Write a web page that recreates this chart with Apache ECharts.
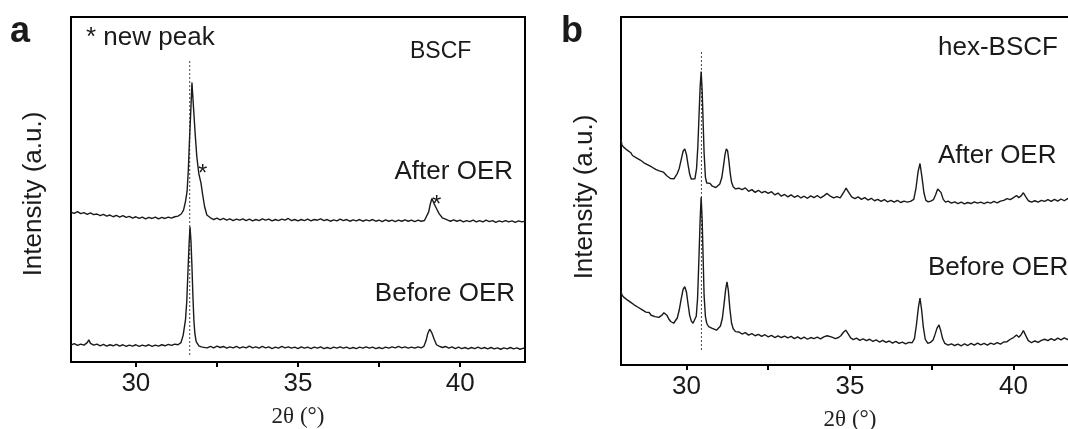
<!DOCTYPE html>
<html><head><meta charset="utf-8">
<script src="https://cdn.jsdelivr.net/npm/echarts@6/dist/echarts.min.js"></script>
<style>html,body{margin:0;padding:0;background:#fff}#c{width:1068px;height:429px}</style>
</head><body><div id="c"></div>
<script>
// x axis ticks / labels (2θ, degrees)
const xTicks = [30, 32.5, 35, 37.5, 40];
const xLabels = [30, 35, 40];

// Panel a: BSCF (intensity in arbitrary units)
const aAfter = [[28.0,43.4],[28.1,43.1],[28.2,43.6],[28.3,43.0],[28.4,43.3],[28.5,42.8],[28.6,43.2],[28.7,42.7],[28.8,42.9],[28.9,42.4],[29.0,42.8],[29.1,42.3],[29.2,42.6],[29.3,42.1],[29.4,42.5],[29.5,42.0],[29.6,42.4],[29.7,41.9],[29.8,42.2],[29.9,41.7],[30.0,42.1],[30.1,41.6],[30.2,42.0],[30.3,41.5],[30.4,41.9],[30.5,41.6],[30.6,42.0],[30.7,41.5],[30.8,41.9],[30.9,41.6],[31.0,42.0],[31.1,41.7],[31.2,42.1],[31.3,42.3],[31.4,42.9],[31.47,44.0],[31.53,46.5],[31.58,49.5],[31.62,56.0],[31.65,63.5],[31.69,72.0],[31.73,81.0],[31.78,73.5],[31.83,66.0],[31.88,59.5],[31.94,54.7],[32.01,51.8],[32.06,48.5],[32.12,45.0],[32.19,42.6],[32.3,41.8],[32.4,41.3],[32.5,41.7],[32.6,41.2],[32.7,41.6],[32.8,41.1],[32.9,41.5],[33.0,41.0],[33.1,41.4],[33.2,41.1],[33.3,41.5],[33.4,41.0],[33.5,41.4],[33.6,40.9],[33.7,41.3],[33.8,41.0],[33.9,41.5],[34.0,41.1],[34.1,41.4],[34.2,40.9],[34.3,41.3],[34.4,41.0],[34.5,41.4],[34.6,41.1],[34.7,41.6],[34.8,41.0],[34.9,41.3],[35.0,40.9],[35.1,41.3],[35.2,41.0],[35.3,41.4],[35.4,40.9],[35.5,41.3],[35.6,41.1],[35.7,41.5],[35.8,41.0],[35.9,41.3],[36.0,40.8],[36.1,41.2],[36.2,40.9],[36.3,41.4],[36.4,41.0],[36.5,41.3],[36.6,40.8],[36.7,41.2],[36.8,40.9],[36.9,41.3],[37.0,40.8],[37.1,41.2],[37.2,40.9],[37.3,41.3],[37.4,40.8],[37.5,41.1],[37.6,40.7],[37.7,41.2],[37.8,40.8],[37.9,41.1],[38.0,40.7],[38.1,41.1],[38.2,40.8],[38.3,41.2],[38.4,40.8],[38.5,41.1],[38.6,40.7],[38.7,41.1],[38.8,40.8],[38.9,41.0],[38.96,41.3],[39.03,43.5],[39.08,45.8],[39.13,47.4],[39.2,45.8],[39.27,44.5],[39.35,43.0],[39.45,41.8],[39.55,41.4],[39.62,41.1],[39.7,40.8],[39.8,41.2],[39.9,40.8],[40.0,41.1],[40.1,40.6],[40.2,41.0],[40.3,40.7],[40.4,41.1],[40.5,40.6],[40.6,41.0],[40.7,40.6],[40.8,41.1],[40.9,40.7],[41.0,41.0],[41.1,40.5],[41.2,40.9],[41.3,40.6],[41.4,41.0],[41.5,40.6],[41.6,40.9],[41.7,40.5],[41.8,40.9],[41.9,40.6],[42.0,40.8]];
const aBefore = [[28.0,4.9],[28.1,5.3],[28.2,4.8],[28.3,5.2],[28.4,4.9],[28.5,5.6],[28.55,6.4],[28.6,5.4],[28.7,4.9],[28.8,5.2],[28.9,4.7],[29.0,5.1],[29.1,4.6],[29.2,5.0],[29.3,4.7],[29.4,5.1],[29.5,4.6],[29.6,5.0],[29.7,4.5],[29.8,4.9],[29.9,4.6],[30.0,5.0],[30.1,4.5],[30.2,4.9],[30.3,4.6],[30.4,5.0],[30.5,4.5],[30.6,4.9],[30.7,4.6],[30.8,5.0],[30.9,4.7],[31.0,5.1],[31.1,4.8],[31.2,5.2],[31.3,5.0],[31.39,5.6],[31.46,7.8],[31.53,12.2],[31.57,17.5],[31.6,24.7],[31.64,34.0],[31.67,39.2],[31.7,35.0],[31.73,27.6],[31.76,19.0],[31.79,12.0],[31.82,8.2],[31.86,5.9],[31.95,4.6],[32.05,4.3],[32.1,4.6],[32.2,4.1],[32.3,4.5],[32.4,4.1],[32.5,4.6],[32.6,4.2],[32.7,4.5],[32.8,4.0],[32.9,4.4],[33.0,4.1],[33.1,4.5],[33.2,4.0],[33.3,4.4],[33.4,4.1],[33.5,4.6],[33.6,4.1],[33.7,4.4],[33.8,4.0],[33.9,4.5],[34.0,4.1],[34.1,4.4],[34.2,3.9],[34.3,4.3],[34.4,4.0],[34.5,4.5],[34.6,4.1],[34.7,4.4],[34.8,4.0],[34.9,4.3],[35.0,3.9],[35.1,4.4],[35.2,4.0],[35.3,4.3],[35.4,3.9],[35.5,4.3],[35.6,4.0],[35.7,4.4],[35.8,3.9],[35.9,4.2],[36.0,3.9],[36.1,4.3],[36.2,4.0],[36.3,4.4],[36.4,4.0],[36.5,4.3],[36.6,3.9],[36.7,4.2],[36.8,3.9],[36.9,4.3],[37.0,4.0],[37.1,4.4],[37.2,4.0],[37.3,4.3],[37.4,3.9],[37.5,4.2],[37.6,3.9],[37.7,4.3],[37.8,4.0],[37.9,4.4],[38.0,4.1],[38.1,4.5],[38.2,4.1],[38.3,4.4],[38.4,4.0],[38.5,4.3],[38.6,4.0],[38.7,4.4],[38.8,4.1],[38.88,4.5],[38.95,6.2],[39.0,8.2],[39.06,9.5],[39.12,8.6],[39.2,6.6],[39.27,5.0],[39.35,4.6],[39.45,4.2],[39.55,4.5],[39.65,4.0],[39.75,4.4],[39.85,3.9],[39.95,4.3],[40.05,3.9],[40.15,4.2],[40.25,3.8],[40.35,4.2],[40.45,3.9],[40.55,4.3],[40.65,3.9],[40.75,4.2],[40.85,3.8],[40.95,4.2],[41.05,3.8],[41.15,4.1],[41.25,3.7],[41.35,4.1],[41.45,3.8],[41.55,4.2],[41.65,3.8],[41.75,4.1],[41.85,3.7],[41.95,4.0],[42.0,3.8]];
const aRefLine = [[31.66,2.0],[31.66,87.5]];

// Panel b: hex-BSCF
const bAfter = [[28.0,64.8],[28.03,63.2],[28.08,62.6],[28.13,63.0],[28.18,61.8],[28.22,61.3],[28.3,61.0],[28.35,60.2],[28.4,60.6],[28.47,59.5],[28.53,59.9],[28.59,58.9],[28.65,59.2],[28.7,58.1],[28.76,58.4],[28.82,57.5],[28.88,57.8],[28.94,56.9],[29.0,57.2],[29.06,56.2],[29.12,56.6],[29.17,55.8],[29.23,56.1],[29.3,55.4],[29.35,55.0],[29.4,54.4],[29.45,54.8],[29.51,53.6],[29.56,53.9],[29.62,53.5],[29.67,54.3],[29.72,55.0],[29.78,56.5],[29.84,59.0],[29.9,61.5],[29.95,62.1],[30.0,60.5],[30.05,57.5],[30.1,54.8],[30.15,53.4],[30.2,52.9],[30.26,53.5],[30.31,56.5],[30.35,63.0],[30.39,73.0],[30.42,80.0],[30.45,84.3],[30.48,79.0],[30.51,70.0],[30.54,61.0],[30.58,54.0],[30.62,52.3],[30.67,51.8],[30.72,52.2],[30.78,51.5],[30.84,51.2],[30.9,51.0],[30.96,51.5],[31.02,52.0],[31.08,53.8],[31.13,57.0],[31.18,60.5],[31.22,62.1],[31.26,61.5],[31.3,58.5],[31.34,55.0],[31.38,52.5],[31.43,51.2],[31.5,50.6],[31.55,50.2],[31.6,50.8],[31.7,50.4],[31.8,50.9],[31.9,49.9],[32.0,50.4],[32.1,49.6],[32.2,50.2],[32.3,49.5],[32.4,49.9],[32.5,49.3],[32.6,49.8],[32.7,48.9],[32.8,49.4],[32.9,48.5],[33.0,49.0],[33.1,48.3],[33.2,48.9],[33.3,48.2],[33.4,48.7],[33.5,48.0],[33.6,48.5],[33.7,47.9],[33.8,48.6],[33.9,48.1],[34.0,48.7],[34.1,48.0],[34.2,48.6],[34.3,49.3],[34.4,48.5],[34.5,48.0],[34.6,48.4],[34.7,48.0],[34.8,49.5],[34.88,50.8],[34.96,49.6],[35.05,48.3],[35.15,47.8],[35.25,48.3],[35.35,47.6],[35.45,48.1],[35.55,47.4],[35.65,47.9],[35.75,47.2],[35.85,47.6],[35.95,47.0],[36.05,47.5],[36.15,46.9],[36.25,47.3],[36.35,46.8],[36.45,47.3],[36.55,46.7],[36.65,47.1],[36.75,46.8],[36.85,47.0],[36.95,47.6],[37.02,51.0],[37.08,55.5],[37.14,57.9],[37.2,54.0],[37.26,49.5],[37.32,47.3],[37.39,46.9],[37.47,47.1],[37.55,47.5],[37.62,49.0],[37.68,50.6],[37.72,51.1],[37.78,49.6],[37.85,47.6],[37.92,46.8],[38.0,47.1],[38.1,46.5],[38.2,46.9],[38.3,46.4],[38.4,46.8],[38.5,46.3],[38.6,46.7],[38.7,46.4],[38.8,46.9],[38.9,46.5],[39.0,46.8],[39.1,46.4],[39.2,46.8],[39.3,46.5],[39.4,47.0],[39.5,46.6],[39.6,47.1],[39.7,47.3],[39.8,47.8],[39.9,47.5],[40.0,48.1],[40.09,48.7],[40.16,48.1],[40.23,48.6],[40.3,49.5],[40.37,48.4],[40.45,47.2],[40.55,46.8],[40.65,47.2],[40.75,46.8],[40.85,47.3],[40.95,47.0],[41.05,47.5],[41.15,47.0],[41.25,47.6],[41.35,47.1],[41.45,47.7],[41.55,47.2],[41.65,47.8],[41.75,47.3],[41.85,47.9],[41.95,47.4],[42.0,47.8]];
const bBefore = [[28.0,21.2],[28.03,20.1],[28.08,19.5],[28.13,19.9],[28.18,18.8],[28.23,19.1],[28.3,18.0],[28.35,18.3],[28.4,17.3],[28.46,17.6],[28.52,16.6],[28.58,16.9],[28.64,15.9],[28.7,16.2],[28.76,15.2],[28.8,14.8],[28.86,15.1],[28.92,14.3],[28.98,14.6],[29.04,13.9],[29.1,14.2],[29.16,13.7],[29.2,13.9],[29.26,14.4],[29.31,15.0],[29.36,15.3],[29.41,14.2],[29.46,13.2],[29.52,12.5],[29.57,12.1],[29.61,12.0],[29.66,12.4],[29.72,13.5],[29.78,15.8],[29.84,19.0],[29.9,21.8],[29.95,22.5],[30.0,21.0],[30.05,17.5],[30.1,14.2],[30.15,12.6],[30.2,12.0],[30.25,12.3],[30.3,14.0],[30.34,19.0],[30.38,30.0],[30.42,42.0],[30.45,48.2],[30.48,42.0],[30.51,31.0],[30.54,20.0],[30.58,14.0],[30.62,12.0],[30.68,11.0],[30.73,10.8],[30.79,10.5],[30.85,10.2],[30.92,10.0],[30.98,10.4],[31.04,11.2],[31.1,13.5],[31.15,17.5],[31.2,21.8],[31.24,23.9],[31.28,21.5],[31.33,16.0],[31.38,12.0],[31.43,10.4],[31.5,9.6],[31.55,9.1],[31.6,9.5],[31.7,8.9],[31.8,9.3],[31.9,8.6],[32.0,9.0],[32.1,8.4],[32.2,8.8],[32.3,8.2],[32.4,8.7],[32.5,8.1],[32.6,8.5],[32.7,7.9],[32.8,8.4],[32.9,7.9],[33.0,8.3],[33.1,7.8],[33.2,8.2],[33.3,7.6],[33.4,8.1],[33.5,7.5],[33.6,8.0],[33.7,7.4],[33.8,7.9],[33.9,7.6],[34.0,8.0],[34.1,7.5],[34.2,8.1],[34.3,8.4],[34.36,8.7],[34.45,8.0],[34.55,7.6],[34.65,7.9],[34.72,8.4],[34.8,9.4],[34.87,10.0],[34.94,9.0],[35.02,7.8],[35.1,7.3],[35.2,7.7],[35.3,7.1],[35.4,7.5],[35.5,7.0],[35.6,7.4],[35.7,6.8],[35.8,7.2],[35.9,6.6],[36.0,7.1],[36.1,6.5],[36.2,6.9],[36.3,6.3],[36.4,6.8],[36.5,6.2],[36.6,6.6],[36.7,6.1],[36.8,6.5],[36.9,6.4],[36.97,7.6],[37.03,11.5],[37.09,16.5],[37.14,19.2],[37.19,15.8],[37.24,11.0],[37.3,7.4],[37.38,6.2],[37.46,6.5],[37.54,7.2],[37.6,8.8],[37.66,10.6],[37.72,11.5],[37.77,10.0],[37.83,7.6],[37.9,6.2],[38.0,5.7],[38.1,6.1],[38.2,5.6],[38.3,6.0],[38.4,5.5],[38.5,6.1],[38.6,5.6],[38.7,6.2],[38.8,5.7],[38.9,6.3],[39.0,5.8],[39.1,6.2],[39.2,5.7],[39.3,6.3],[39.4,5.9],[39.5,6.4],[39.6,6.0],[39.7,6.6],[39.8,6.7],[39.9,7.4],[40.0,7.9],[40.09,8.6],[40.16,8.0],[40.23,8.7],[40.3,9.9],[40.37,8.5],[40.45,7.0],[40.55,6.4],[40.65,6.9],[40.75,6.5],[40.85,7.1],[40.95,7.4],[41.05,7.0],[41.15,7.6],[41.25,7.1],[41.35,7.7],[41.45,7.2],[41.55,7.8],[41.65,7.3],[41.75,7.8],[41.85,7.4],[41.95,7.9],[42.0,7.7]];
const bRefLine = [[30.46,4.3],[30.46,90.0]];

const SANS = '"Liberation Sans", Arial, sans-serif';
const SERIF = '"Liberation Serif", "Times New Roman", serif';
const INK = '#1a1a1a';

function xAxisFor(gi) {
  return {
    type: 'value', gridIndex: gi, min: 28, max: 42,
    axisLine: { show: true, lineStyle: { color: '#000', width: 2 } },
    axisTick: { show: true, length: 5, customValues: xTicks, lineStyle: { color: '#000', width: 2 } },
    axisLabel: { customValues: xLabels, fontSize: 26, color: INK, fontFamily: SANS, margin: 9 },
    splitLine: { show: false },
    name: '2θ (°)', nameLocation: 'middle', nameGap: 43,
    nameTextStyle: { fontFamily: SERIF, fontSize: 23, color: '#222' }
  };
}
function yAxisFor(gi) {
  return {
    type: 'value', gridIndex: gi, min: 0, max: 100,
    axisLine: { show: false }, axisTick: { show: false }, axisLabel: { show: false }, splitLine: { show: false }
  };
}
function trace(data, gi) {
  return { type: 'line', data: data, xAxisIndex: gi, yAxisIndex: gi, showSymbol: false, silent: true,
    lineStyle: { color: INK, width: 1.4 }, z: 3 };
}
function refLine(data, gi) {
  return { type: 'line', data: data, xAxisIndex: gi, yAxisIndex: gi, showSymbol: false, silent: true,
    lineStyle: { color: '#555', width: 1.1, type: [2, 2] }, z: 2 };
}
function txt(text, x, y, size, align, opts) {
  opts = opts || {};
  return { type: 'text', x: x, y: y, rotation: opts.rot || 0, z: 10,
    style: { text: text, font: (opts.weight || 'normal') + ' ' + size + 'px ' + (opts.family || SANS),
      fill: INK, align: align, verticalAlign: 'middle', textAlign: align, textVerticalAlign: 'middle' } };
}

const chart = echarts.init(document.getElementById('c'), null, { renderer: 'canvas' });
chart.setOption({
  animation: false,
  backgroundColor: '#fff',
  grid: [
    { left: 71, top: 17, width: 454, height: 345, outerBoundsMode: 'none', containLabel: false, show: true, borderColor: '#000', borderWidth: 2, backgroundColor: 'transparent' },
    { left: 621, top: 17, right: -11, height: 348, outerBoundsMode: 'none', containLabel: false, show: true, borderColor: '#000', borderWidth: 2, backgroundColor: 'transparent' }
  ],
  xAxis: [xAxisFor(0), xAxisFor(1)],
  yAxis: [yAxisFor(0), yAxisFor(1)],
  series: [
    refLine(aRefLine, 0), trace(aAfter, 0), trace(aBefore, 0),
    refLine(bRefLine, 1), trace(bAfter, 1), trace(bBefore, 1)
  ],
  graphic: [
    txt('a', 10, 32, 36, 'left', { weight: 'bold' }),
    txt('Intensity (a.u.)', 34, 194, 26, 'center', { rot: Math.PI / 2 }),
    txt('* new peak', 86, 38, 26, 'left'),
    txt('BSCF', 410, 52, 23, 'left'),
    txt('After OER', 513, 172, 26, 'right'),
    txt('Before OER', 515, 294, 26, 'right'),
    txt('*', 198, 174, 24, 'left'),
    txt('*', 432, 205, 24, 'left'),
    txt('b', 561, 32, 36, 'left', { weight: 'bold' }),
    txt('Intensity (a.u.)', 585, 197, 26, 'center', { rot: Math.PI / 2 }),
    txt('hex-BSCF', 938, 48, 26, 'left'),
    txt('After OER', 938, 156, 26, 'left'),
    txt('Before OER', 928, 268, 26, 'left')
  ]
});
</script></body></html>
